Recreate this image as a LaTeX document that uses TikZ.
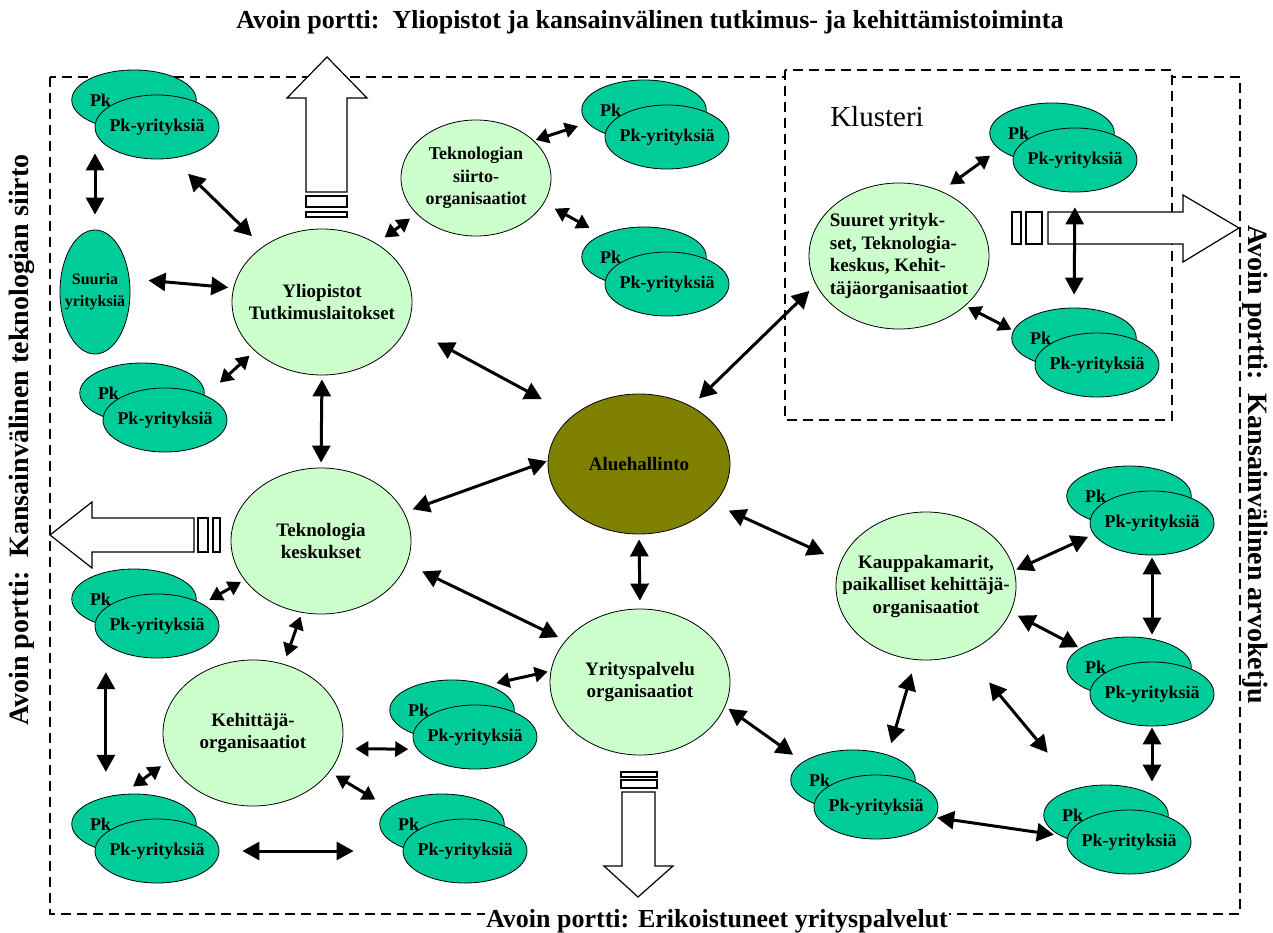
\documentclass[tikz,border=0pt]{standalone}
\usepackage{fontspec}
\setmainfont{Liberation Serif}
\usetikzlibrary{positioning}
\usetikzlibrary{shapes.geometric, arrows.meta}

\definecolor{vaalea}{HTML}{CCFFCC}
\definecolor{pkvihrea}{HTML}{00CC99}
\definecolor{oliivi}{HTML}{808000}

\tikzset{
  iso/.style={ellipse, draw, fill=vaalea, line width=0.8pt, minimum width=180pt, minimum height=146pt, inner sep=-20pt, align=center, font=\fontsize{19}{22.5}\selectfont\bfseries},
  pk/.style={ellipse, draw, fill=pkvihrea, line width=0.8pt, minimum width=124pt, minimum height=64pt, inner sep=-10pt, font=\fontsize{18}{22}\selectfont\bfseries},
  pktaka/.style={pk, minimum height=60pt, inner sep=0pt, text width=88pt, align=left},
  nuoli/.style={{Triangle[length=17pt,width=18pt]}-{Triangle[length=17pt,width=18pt]}, line width=3pt},
  lyhyt/.style={{Triangle[length=13pt,width=15pt]}-{Triangle[length=13pt,width=15pt]}, line width=3pt},
  levea/.style={draw, fill=white, line width=1.2pt},
  reuna/.style={dash pattern=on 10pt off 6pt, line width=1.2pt},
  otsikko/.style={font=\fontsize{26}{30}\selectfont\bfseries},
  sivuotsikko/.style={font=\fontsize{28}{32}\selectfont\bfseries}
}

% kaksi paallekkaista pk-ellipsia: nimi, x, y
\newcommand{\pkpari}[3]{%
  \node[pktaka] (#1b) at (#2-23,#3-27) {Pk};
  \node[pk] (#1) at (#2,#3) {Pk-yrityksiä};
}

\begin{document}
\begin{tikzpicture}[x=1pt, y=-1pt]
\useasboundingbox (0,0) rectangle (1273,933);

\draw[reuna] (50,77) rectangle (1240,914);
\draw[reuna, fill=white] (785,70) rectangle (1172,420);

% avoimet portit
\draw[levea] (306,192) -- (306,98) -- (287,98) -- (327,57) -- (367,98) -- (347,98) -- (347,192) -- cycle;
\draw[levea] (306,196) rectangle (347,207);
\draw[levea] (306,212) rectangle (347,217);
\draw[levea] (194,518) -- (92,518) -- (92,502) -- (50,535) -- (92,568) -- (92,552) -- (194,552) -- cycle;
\draw[levea] (198,518) rectangle (208,552);
\draw[levea] (213,518) rectangle (220,552);
\draw[levea] (1048,212) -- (1183,212) -- (1183,195) -- (1239,228) -- (1183,262) -- (1183,244) -- (1048,244) -- cycle;
\draw[levea] (1012,212) rectangle (1021,244);
\draw[levea] (1026,212) rectangle (1042,244);
\draw[levea] (622,792) -- (622,866) -- (604,866) -- (638,897) -- (673,866) -- (655,866) -- (655,792) -- cycle;
\draw[levea] (621,772) rectangle (657,777);
\draw[levea] (621,780) rectangle (657,788);

\node[otsikko] (ylaotsikko) at (650,22) {Avoin portti:\ \ Yliopistot ja kansainvälinen tutkimus- ja kehittämistoiminta};
\node[otsikko, fill=white, inner sep=1pt] (alaotsikko) at (717,921) {Avoin portti: Erikoistuneet yrityspalvelut};
\node[sivuotsikko, rotate=90] (vasotsikko) at (22,440) {Avoin portti:\ \ Kansainvälinen teknologian siirto};
\node[sivuotsikko, rotate=-90] (oikotsikko) at (1255,465) {Avoin portti:\ \ Kansainvälinen arvoketju};
\node[font=\fontsize{29}{32}\selectfont] (klusteri) at (877,117) {Klusteri};

\node[iso] (yliopistot) at (322,302) {Yliopistot\\Tutkimuslaitokset};
\node[iso, minimum width=150pt, minimum height=116pt, font=\fontsize{18}{22.5}\selectfont\bfseries] (siirto) at (476,178) {Teknologian\\siirto-\\organisaatiot};
\node[iso] (tekkeskus) at (321,541) {Teknologia\\keskukset};
\node[iso] (kehittaja) at (253,733) {Kehittäjä-\\organisaatiot};
\node[iso] (yrpalvelu) at (640,682) {Yrityspalvelu\\organisaatiot};
\node[iso, fill=oliivi, minimum width=182pt, minimum height=140pt] (alue) at (639,464) {Aluehallinto};
\node[iso, minimum width=174pt, minimum height=148pt] (kauppakamarit) at (926,586) {Kauppakamarit,\\paikalliset kehittäjä-\\organisaatiot};
\node[iso, align=left] (suuret) at (899,256) {Suuret yrityk-\\set, Teknologia-\\keskus, Kehit-\\täjäorganisaatiot};
\node[pk, minimum width=70pt, minimum height=124pt, align=center, font=\fontsize{16}{22}\selectfont\bfseries] (suuria) at (95,292) {Suuria\\yrityksiä};

\pkpari{pk1}{157}{127}
\pkpari{pk2}{667}{137}
\pkpari{pk3}{667}{284}
\pkpari{pk4}{165}{420}
\pkpari{pk5}{157}{626}
\pkpari{pk6}{475}{737}
\pkpari{pk7}{157}{851}
\pkpari{pk8}{465}{851}
\pkpari{pk9}{1075}{160}
\pkpari{pk10}{1097}{365}
\pkpari{pk11}{1152}{523}
\pkpari{pk12}{1152}{694}
\pkpari{pk13}{1129}{842}
\pkpari{pk14}{876}{807}

\draw[nuoli, shorten <=23pt, shorten >=15pt] (suuria.north |- pk1b.south) -- (suuria.north);
\draw[nuoli, shorten <=22pt, shorten >=15pt] (pk1.-64) -- (yliopistot.137);
\draw[nuoli, shorten <=19pt, shorten >=5pt] (suuria.21) -- (yliopistot.171);
\draw[lyhyt, shorten <=19pt, shorten >=7pt] (pk4.31) -- (yliopistot.216);
\draw[lyhyt, shorten <=10pt, shorten >=8pt] (yliopistot.47) -- (siirto.211);
\draw[lyhyt, shorten <=2pt, shorten >=10pt] (siirto.33) -- (pk2b.193);
\draw[lyhyt, shorten <=12pt, shorten >=14pt] (siirto.-20) -- (pk3b.152);
\draw[nuoli, shorten <=4pt, shorten >=5pt] (yliopistot.south) -- (tekkeskus.north);
\draw[nuoli, shorten <=34pt, shorten >=35pt] (yliopistot.-16) -- (alue.144);
\draw[nuoli, shorten <=9pt, shorten >=1pt] (tekkeskus.19) -- (alue.178);
\draw[nuoli, shorten <=5pt, shorten >=8pt] (alue.south) -- (yrpalvelu.north);
\draw[nuoli, shorten <=17pt, shorten >=8pt] (tekkeskus.-15) -- (yrpalvelu.151);
\draw[nuoli, shorten <=11pt, shorten >=9pt] (alue.48) -- (suuret.-161);
\draw[nuoli, shorten <=16pt, shorten >=18pt] (alue.-28) -- (kauppakamarit.164);
\draw[lyhyt, shorten <=8pt, shorten >=4pt] (pk5.26) -- (tekkeskus.207);
\draw[lyhyt, shorten <=4pt, shorten >=8pt] (tekkeskus.-105) -- (kehittaja.66);
\draw[nuoli, shorten <=46pt, shorten >=25pt] (pk5b.-136) -- (pk7b.136);
\draw[lyhyt, shorten <=13pt, shorten >=10pt] (pk7b.111) -- (kehittaja.-162);
\draw[lyhyt, shorten <=14pt, shorten >=9pt] (kehittaja.-10) -- (pk6.192);
\draw[lyhyt, shorten <=7pt, shorten >=16pt] (kehittaja.-27) -- (pk8b.163);
\draw[nuoli, shorten <=23pt, shorten >=49pt] (pk7.east) -- (pk8.west);
\draw[lyhyt, shorten <=9pt, shorten >=3pt] (pk6b.35) -- (yrpalvelu.173);
\draw[nuoli, shorten <=4pt, shorten >=12pt] (yrpalvelu.-16) -- (pk14b.160);
\draw[nuoli, shorten <=14pt, shorten >=12pt] (kauppakamarit.-98) -- (pk14b.36);
\draw[nuoli, shorten <=2pt, shorten >=6pt] (kauppakamarit.10) -- (pk11.191);
\draw[nuoli, shorten <=8pt, shorten >=2pt] (kauppakamarit.-17) -- (pk12b.159);
\draw[nuoli, shorten <=2pt, shorten >=2pt] (pk11.south) -- (pk12b.north -| pk11.south);
\draw[nuoli, shorten <=1pt, shorten >=3pt] (pk12.south) -- (pk13b.north -| pk12.south);
\draw[nuoli, shorten <=38pt, shorten >=46pt] (kauppakamarit.-60) -- (pk13b.137);
\draw[nuoli, shorten <=2pt, shorten >=6pt] (pk14.-10) -- (pk13b.-156);
\draw[lyhyt, shorten <=11pt, shorten >=11pt] (suuret.57) -- (pk9b.197);
\draw[lyhyt, shorten <=3pt, shorten >=2pt] (suuret.-37) -- (pk10b.173);
\draw[nuoli, shorten <=15pt, shorten >=13pt] (pk9.south) -- (pk10b.north);
\end{tikzpicture}
\end{document}
